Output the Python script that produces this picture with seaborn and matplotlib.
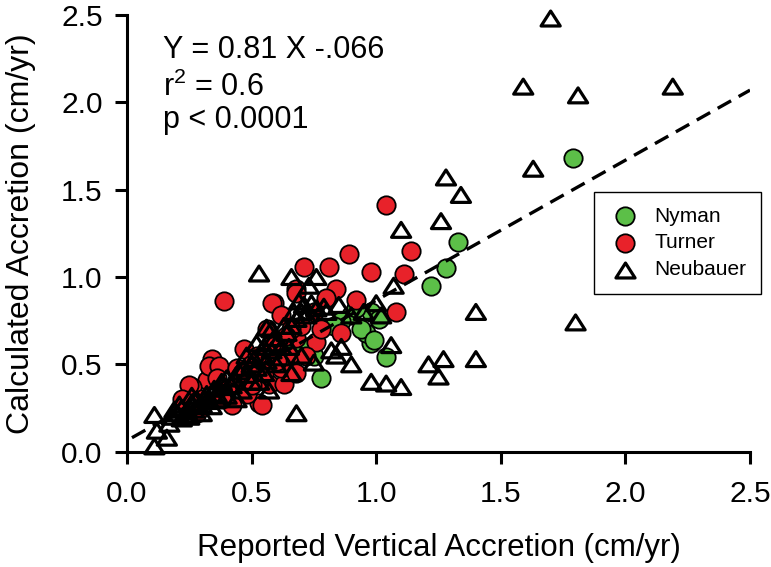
import numpy as np
import pandas as pd
import matplotlib
matplotlib.use("Agg")
import matplotlib.pyplot as plt
from matplotlib.path import Path
import seaborn as sns

# Data (cm/yr)
nyman_x = [1.79, 1.33, 1.28, 1.22, 0.98, 0.96, 1.04, 0.78, 0.90, 0.98, 0.94, 0.99,
           0.64, 0.71, 0.86, 0.92, 1.01, 0.75, 0.83, 0.60, 0.68]
nyman_y = [1.68, 1.20, 1.05, 0.95, 0.62, 0.68, 0.54, 0.42, 0.78, 0.80, 0.70, 0.64,
           0.58, 0.60, 0.75, 0.82, 0.76, 0.55, 0.72, 0.50, 0.70]

turner_x = [1.04, 1.14, 0.98, 1.11, 1.08, 0.89, 0.71, 0.81, 0.84, 0.68, 0.92, 0.59,
            0.86, 0.76, 0.68, 0.39, 0.58, 0.68, 0.62, 0.47, 0.34, 0.32, 0.53, 0.57,
            0.63, 0.33, 0.26, 0.37, 0.25, 0.42, 0.54, 0.65, 0.55, 0.50, 0.60, 0.45,
            0.40, 0.30, 0.22, 0.28, 0.62, 0.70, 0.75, 0.66, 0.52, 0.48, 0.36, 0.44,
            0.58, 0.78, 0.72, 0.64, 0.56, 0.80, 0.60, 0.46, 0.38, 0.68, 0.50]
turner_y = [1.41, 1.15, 1.03, 1.02, 0.80, 1.13, 1.06, 1.06, 0.93, 0.93, 0.87, 0.85,
            0.68, 0.63, 0.65, 0.86, 0.85, 0.91, 0.78, 0.59, 0.53, 0.41, 0.28, 0.39,
            0.39, 0.49, 0.37, 0.49, 0.38, 0.27, 0.27, 0.55, 0.45, 0.50, 0.60, 0.40,
            0.35, 0.30, 0.30, 0.22, 0.48, 0.72, 0.80, 0.70, 0.55, 0.33, 0.42, 0.48,
            0.62, 0.70, 0.55, 0.66, 0.70, 0.88, 0.52, 0.45, 0.30, 0.45, 0.38]

neubauer_x = [1.70, 1.59, 1.81, 2.19, 1.63, 1.28, 1.34, 1.26, 1.10, 1.40, 1.80, 1.40,
              1.27, 1.21, 1.25, 1.07, 1.06, 0.90, 0.98, 1.04, 1.10, 0.75, 0.66, 0.76,
              0.69, 0.53, 0.68, 0.79, 0.86, 0.56, 0.11, 0.12, 0.16, 0.11, 0.17, 1.02,
              0.18, 0.20, 0.22, 0.24, 0.26, 0.28, 0.30, 0.22, 0.25, 0.32, 0.35, 0.38,
              0.40, 0.42, 0.45, 0.48, 0.50, 0.52, 0.54, 0.56, 0.58, 0.60, 0.62, 0.64,
              0.66, 0.68, 0.70, 0.72, 0.74, 0.76, 0.50, 0.55, 0.60, 0.46, 0.62, 0.65,
              0.80, 0.82, 0.84, 0.90, 0.44, 0.36, 0.40, 0.30, 0.34, 0.53, 0.57, 0.66,
              0.70, 0.73, 0.85, 0.95, 1.00, 0.48, 0.52, 0.58,
              0.19, 0.21, 0.23, 0.27, 0.29, 0.31, 0.26, 0.33, 0.36, 0.39, 0.43, 0.47,
              0.51, 0.55, 0.59, 0.63, 0.67, 0.71]
neubauer_y = [2.48, 2.09, 2.04, 2.09, 1.62, 1.57, 1.47, 1.32, 1.27, 0.80, 0.74, 0.53,
              0.53, 0.50, 0.43, 0.95, 0.61, 0.50, 0.40, 0.39, 0.37, 0.51, 1.00, 1.00,
              0.86, 1.02, 0.22, 0.83, 0.60, 0.71, 0.21, 0.12, 0.08, 0.03, 0.16, 0.78,
              0.20, 0.22, 0.25, 0.23, 0.28, 0.30, 0.27, 0.19, 0.20, 0.33, 0.36, 0.40,
              0.42, 0.38, 0.46, 0.44, 0.50, 0.48, 0.55, 0.52, 0.58, 0.62, 0.60, 0.68,
              0.72, 0.76, 0.80, 0.78, 0.85, 0.82, 0.40, 0.45, 0.50, 0.35, 0.54, 0.60,
              0.80, 0.58, 0.55, 0.78, 0.30, 0.30, 0.32, 0.22, 0.26, 0.40, 0.35, 0.45,
              0.55, 0.95, 0.84, 0.80, 0.85, 0.55, 0.62, 0.70,
              0.24, 0.27, 0.21, 0.24, 0.26, 0.30, 0.32, 0.29, 0.33, 0.37, 0.42, 0.48,
              0.53, 0.60, 0.65, 0.72, 0.80, 0.84]

# regression line as drawn
fit_x = [0.02, 2.50]
fit_y = [0.08, 2.07]

df = pd.concat([
    pd.DataFrame({"reported": nyman_x, "calculated": nyman_y, "source": "Nyman"}),
    pd.DataFrame({"reported": turner_x, "calculated": turner_y, "source": "Turner"}),
    pd.DataFrame({"reported": neubauer_x, "calculated": neubauer_y, "source": "Neubauer"}),
], ignore_index=True)

sns.set_style("ticks")
plt.rcParams["font.family"] = ["Liberation Sans", "DejaVu Sans"]
plt.rcParams["mathtext.fontset"] = "custom"
plt.rcParams["mathtext.rm"] = "Liberation Sans"
for k in ["text.color", "axes.labelcolor", "xtick.color", "ytick.color", "axes.edgecolor"]:
    plt.rcParams[k] = "black"

fig = plt.figure(figsize=(7.71, 5.67), dpi=100)
ax = fig.add_axes([0.1647, 0.2034, 0.8081, 0.7701])

# slightly flattened, closed triangle
tri = Path([(-1, -0.78), (1, -0.78), (0, 0.78), (-1, -0.78)],
           [Path.MOVETO, Path.LINETO, Path.LINETO, Path.CLOSEPOLY])
styles = {
    "Nyman": dict(color="#5cbf48", marker="o", s=175, linewidth=1.3),
    "Turner": dict(color="#e8222a", marker="o", s=175, linewidth=1.3),
    "Neubauer": dict(color="none", marker=tri, s=190, linewidth=2.3),
}
for name in ["Nyman", "Turner", "Neubauer"]:
    st = styles[name]
    sns.scatterplot(data=df[df.source == name], x="reported", y="calculated", ax=ax,
                    facecolor=st["color"], marker=st["marker"], s=st["s"],
                    edgecolor="black", linewidth=st["linewidth"], label=name, zorder=3)

sns.lineplot(x=fit_x, y=fit_y, ax=ax, color="black", linewidth=2.4,
             dashes=False, zorder=4, legend=False)
ax.lines[-1].set_dashes([4.6, 2.6])

ticks = np.arange(0, 2.51, 0.5)
ax.set_xlim(0, 2.5)
ax.set_ylim(0, 2.5)
ax.set_xticks(ticks)
ax.set_yticks(ticks)
ax.set_xticklabels([f"{v:.1f}" for v in ticks])
ax.set_yticklabels([f"{v:.1f}" for v in ticks])
sns.despine(ax=ax)
for sp in ["left", "bottom"]:
    ax.spines[sp].set_linewidth(2.2)
    ax.spines[sp].set_zorder(5)
ax.tick_params(axis="both", length=8.5, width=2.2, labelsize=21.5, color="black")
ax.tick_params(axis="x", pad=12)
ax.tick_params(axis="y", pad=9)
for c in ax.collections:
    c.set_clip_on(False)

ax.set_xlabel("Reported Vertical Accretion (cm/yr)", fontsize=22.5, labelpad=18)
ax.set_ylabel("Calculated Accretion (cm/yr)", fontsize=23, labelpad=18)

ax.text(0.058, 0.955, "Y = 0.81 X -.066", transform=ax.transAxes, fontsize=22, va="top")
ax.text(0.058, 0.870, "r$^2$ = 0.6", transform=ax.transAxes, fontsize=22, va="top")
ax.text(0.058, 0.793, "p < 0.0001", transform=ax.transAxes, fontsize=22, va="top")

leg = ax.legend(loc="upper left", bbox_to_anchor=(0.7496, 0.5947), borderaxespad=0,
                fancybox=False, framealpha=1, edgecolor="black", fontsize=15,
                handletextpad=0.6, borderpad=0.7, labelspacing=0.38, handlelength=1.6)
leg.get_frame().set_linewidth(1.0)
leg.legend_handles[2].set_facecolor("white")

fig.savefig("out.png", dpi=100)
